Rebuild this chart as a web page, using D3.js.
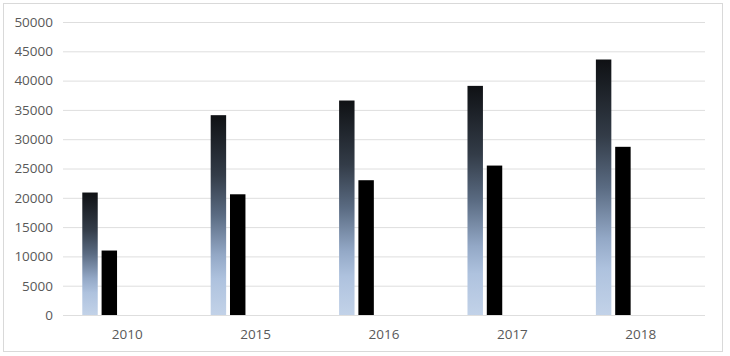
<!DOCTYPE html>
<html>
<head>
<meta charset="utf-8">
<script src="https://cdn.jsdelivr.net/npm/d3@7"></script>
<style>
  html, body { margin: 0; padding: 0; background: #fff; }
  svg { display: block; }
  text { font-family: "Open Sans", "Liberation Sans", sans-serif; }
</style>
</head>
<body>
<svg id="chart" width="730" height="356"></svg>
<script>
const categories = ["2010", "2015", "2016", "2017", "2018"];
const seriesA = [20900, 34100, 36600, 39100, 43600];
const seriesB = [11000, 20600, 23000, 25500, 28700];
const yTicks = [0, 5000, 10000, 15000, 20000, 25000, 30000, 35000, 40000, 45000, 50000];
// the source chart reserves 5 bar slots per category; only the first two hold data
const slotCount = 5;

const svg = d3.select("#chart");
const plot = { left: 63, right: 705, top: 22, bottom: 315 };

// outer border
svg.append("rect")
  .attr("x", 3.5).attr("y", 3.5)
  .attr("width", 719).attr("height", 348)
  .attr("fill", "#fff").attr("stroke", "#d9d9d9").attr("stroke-width", 1);

const defs = svg.append("defs");
const grad = defs.append("linearGradient")
  .attr("id", "gradA").attr("x1", 0).attr("y1", 0).attr("x2", 0).attr("y2", 1);
[["0%", "#0f1114"], ["30%", "#333c48"], ["50%", "#5a6b82"], ["70%", "#93a8c6"], ["82%", "#aec2de"], ["100%", "#c2d2e8"]]
  .forEach(([o, c]) => grad.append("stop").attr("offset", o).attr("stop-color", c));

const x0 = d3.scaleBand().domain(categories).range([plot.left, plot.right]).padding(0);
const x1 = d3.scaleBand().domain(d3.range(slotCount)).range([0, x0.bandwidth()])
  .paddingInner(0.2).paddingOuter(0.925).align(0.54);
const y = d3.scaleLinear().domain([0, 50000]).range([plot.bottom, plot.top]);

// gridlines
const yAxis = d3.axisLeft(y).tickValues(yTicks).tickSize(-(plot.right - plot.left)).tickPadding(10).tickFormat(d3.format("d"));
const gy = svg.append("g").attr("transform", `translate(${plot.left},0)`).call(yAxis);
gy.select(".domain").remove();
gy.selectAll(".tick line").attr("stroke", "#dedede").attr("stroke-width", 1);
gy.selectAll(".tick text").attr("fill", "#595959").attr("font-size", "13.5px");

// x axis labels
const xAxis = d3.axisBottom(x0).tickSize(0).tickPadding(14);
const gx = svg.append("g").attr("transform", `translate(0,${plot.bottom})`).call(xAxis);
gx.select(".domain").remove();
gx.selectAll(".tick text").attr("fill", "#595959").attr("font-size", "13.5px");

const series = [
  { values: seriesA, fill: "url(#gradA)" },
  { values: seriesB, fill: "#000000" }
];

series.forEach((s, si) => {
  svg.append("g").selectAll("rect")
    .data(categories.map((c, i) => ({ c, v: s.values[i] })))
    .join("rect")
    .attr("x", d => x0(d.c) + x1(si))
    .attr("width", x1.bandwidth())
    .attr("y", d => y(d.v))
    .attr("height", d => y(0) - y(d.v))
    .attr("fill", s.fill);
});
</script>
</body>
</html>
